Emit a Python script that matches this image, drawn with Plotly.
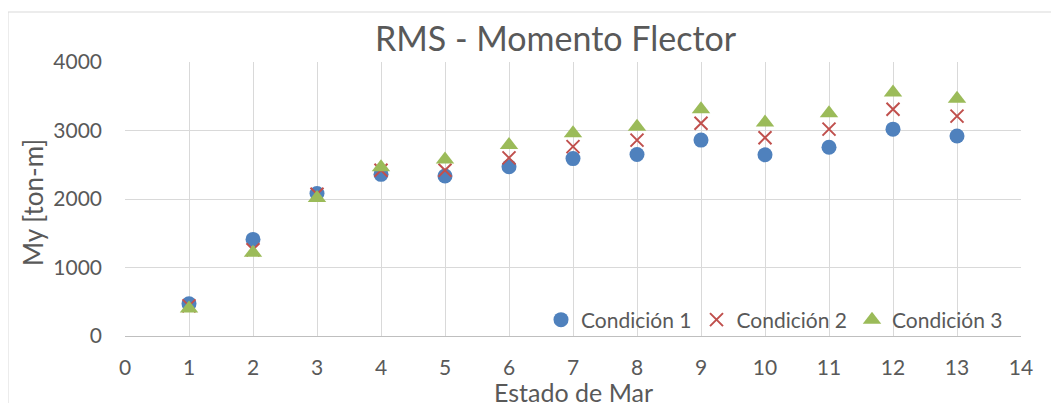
import plotly.graph_objects as go

W, H = 1059, 403
estado = [1, 2, 3, 4, 5, 6, 7, 8, 9, 10, 11, 12, 13]
cond1 = [470, 1410, 2080, 2360, 2335, 2470, 2590, 2650, 2860, 2645, 2755, 3020, 2920]
cond2 = [440, 1260, 2070, 2420, 2420, 2600, 2765, 2860, 3105, 2895, 3020, 3310, 3210]
cond3 = [400, 1215, 2015, 2465, 2575, 2790, 2960, 3055, 3310, 3115, 3250, 3555, 3465]
names = ["Condición 1", "Condición 2", "Condición 3"]
x_ticks = list(range(0, 15))
y_ticks = [0, 1000, 2000, 3000, 4000]

FONT = "Lato"
GREY = "#595959"

# page body adds an 8px offset; targets below are screen pixels
OFF = 8
L, R, T, B = 125 - OFF, 1021 - OFF, 62 - OFF, 336 - OFF

def px_x(p):
    return (p - OFF - L) / (R - L)

def px_y(p):
    return (B - (p - OFF)) / (B - T)

fig = go.Figure()
fig.add_trace(go.Scatter(x=estado, y=cond1, mode="markers", name=names[0],
                         marker=dict(symbol="circle", size=15, color="#4F81BD")))
fig.add_trace(go.Scatter(x=estado, y=cond2, mode="markers", name=names[1],
                         marker=dict(symbol="x-thin", size=13, color="#C0504D",
                                     line=dict(color="#C0504D", width=2))))
fig.add_trace(go.Scatter(x=estado, y=cond3, mode="markers", name=names[2],
                         marker=dict(symbol="triangle-up", size=16, color="#9BBB59")))

# outer chart frame (left and top edges visible)
fig.add_shape(type="line", xref="paper", yref="paper",
              x0=px_x(8), x1=px_x(W + 20), y0=px_y(12), y1=px_y(12),
              line=dict(color="#d9d9d9", width=1))
fig.add_shape(type="line", xref="paper", yref="paper",
              x0=px_x(8), x1=px_x(8), y0=px_y(12), y1=px_y(H + 20),
              line=dict(color="#d9d9d9", width=1))

# axis titles
fig.add_annotation(text="Estado de Mar", xref="paper", yref="paper",
                   x=px_x(573), y=px_y(392), xanchor="center", yanchor="middle",
                   showarrow=False, font=dict(family=FONT, size=25, color=GREY))
fig.add_annotation(text="My [ton-m]", xref="paper", yref="paper",
                   x=px_x(33), y=px_y(203), xanchor="center", yanchor="middle",
                   textangle=-90, showarrow=False, font=dict(family=FONT, size=26, color=GREY))

fig.update_layout(
    width=W, height=H,
    margin=dict(l=L, r=W - R, t=T, b=H - B, autoexpand=False),
    paper_bgcolor="white", plot_bgcolor="white",
    font=dict(family=FONT, color=GREY, size=21),
    title=dict(text="RMS - Momento Flector", x=(555.6 - OFF) / W, xref="container", xanchor="center",
               y=1 - (39 - OFF) / H, yref="container", yanchor="middle",
               font=dict(family=FONT, size=34, color=GREY)),
    showlegend=True,
    legend=dict(orientation="h", x=px_x(1008), xanchor="right", y=px_y(320), yanchor="middle",
                bgcolor="rgba(0,0,0,0)", font=dict(size=21, color=GREY),
                itemwidth=30, tracegroupgap=0),
)
fig.update_xaxes(range=[0, 14], tickvals=x_ticks, showgrid=True, gridcolor="#d9d9d9", gridwidth=1,
                 showline=True, linecolor="#bfbfbf", linewidth=1, zeroline=False, automargin=False,
                 ticks="", ticklabelstandoff=13, tickfont=dict(size=21, color=GREY))
fig.update_yaxes(range=[0, 4000], tickvals=y_ticks, showgrid=True, gridcolor="#d9d9d9", gridwidth=1,
                 showline=False, zeroline=False, automargin=False,
                 ticks="", ticklabelstandoff=22, tickfont=dict(size=21, color=GREY))

fig.write_html("out.html")
